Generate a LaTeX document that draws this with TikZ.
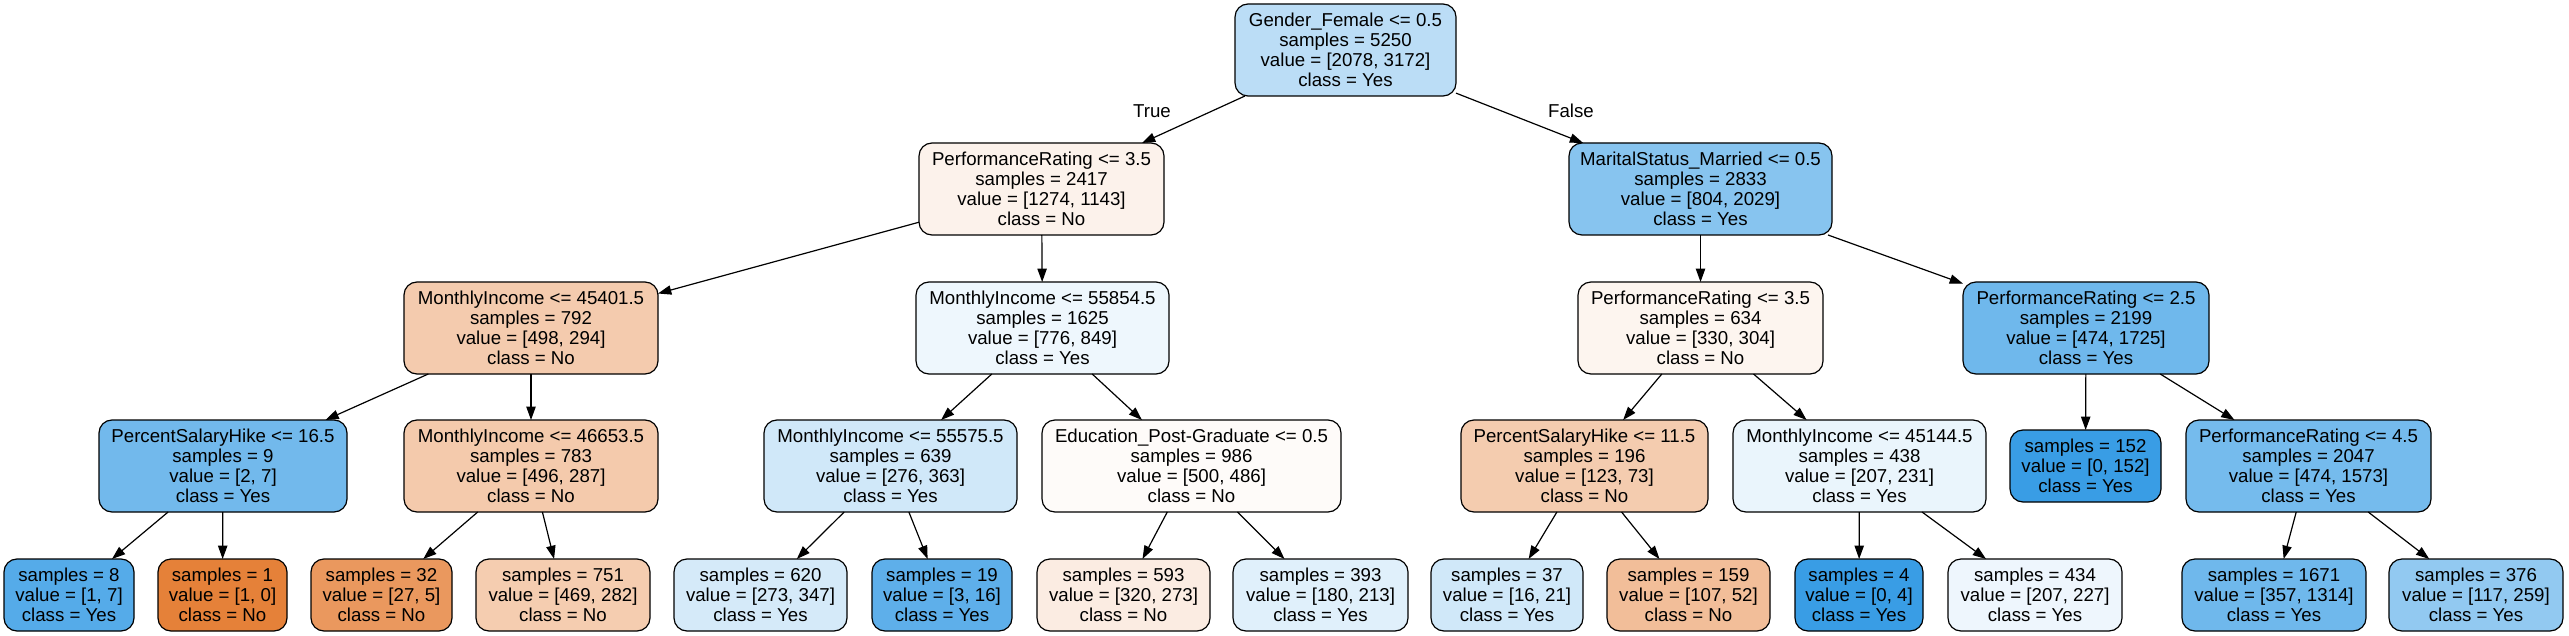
\documentclass[tikz,border=0pt]{standalone}
\usepackage{fontspec}
\setmainfont{Liberation Sans}
\usetikzlibrary{arrows.meta}
\definecolor{ora}{RGB}{229,129,57}
\definecolor{blu}{RGB}{57,157,229}
\begin{document}
\begin{tikzpicture}[x=1pt,y=-1pt,
  tn/.style={draw=black, line width=1.2pt, rounded corners=13pt, inner sep=0pt, outer sep=0pt, align=center, font=\fontsize{18.67}{20}\selectfont, minimum height=92pt},
  lf/.style={tn, minimum height=72pt},
  ed/.style={line width=1.2pt, -{Triangle[length=13.3pt,width=9.3pt]}},
  lbl/.style={font=\fontsize{18.67}{20}\selectfont, inner sep=0pt}]
\fill[white] (0,0) rectangle (2569,636);
\useasboundingbox (0,0) rectangle (2569,636);
% row 0
\node[tn, minimum width=221pt, fill=blu!34.49!white] (n0) at (1345.5,50) {Gender\_Female <= 0.5\\samples = 5250\\value = [2078, 3172]\\class = Yes};
% row 1
\node[tn, minimum width=245pt, fill=ora!10.28!white] (n1) at (1041.5,189) {PerformanceRating <= 3.5\\samples = 2417\\value = [1274, 1143]\\class = No};
\node[tn, minimum width=263pt, fill=blu!60.37!white] (n16) at (1700.5,189) {MaritalStatus\_Married <= 0.5\\samples = 2833\\value = [804, 2029]\\class = Yes};
% row 2
\node[tn, minimum width=254pt, fill=ora!40.96!white] (n2) at (531,328) {MonthlyIncome <= 45401.5\\samples = 792\\value = [498, 294]\\class = No};
\node[tn, minimum width=253pt, fill=blu!8.60!white] (n9) at (1042.5,328) {MonthlyIncome <= 55854.5\\samples = 1625\\value = [776, 849]\\class = Yes};
\node[tn, minimum width=245pt, fill=ora!7.88!white] (n17) at (1700.5,328) {PerformanceRating <= 3.5\\samples = 634\\value = [330, 304]\\class = No};
\node[tn, minimum width=246pt, fill=blu!72.52!white] (n24) at (2086,328) {PerformanceRating <= 2.5\\samples = 2199\\value = [474, 1725]\\class = Yes};
% row 3
\node[tn, minimum width=248pt, fill=blu!71.43!white] (n3) at (223,466) {PercentSalaryHike <= 16.5\\samples = 9\\value = [2, 7]\\class = Yes};
\node[tn, minimum width=254pt, fill=ora!42.14!white] (n6) at (531,466) {MonthlyIncome <= 46653.5\\samples = 783\\value = [496, 287]\\class = No};
\node[tn, minimum width=253pt, fill=blu!23.97!white] (n10) at (890.5,466) {MonthlyIncome <= 55575.5\\samples = 639\\value = [276, 363]\\class = Yes};
\node[tn, minimum width=299pt, fill=ora!2.8!white] (n13) at (1191.5,466) {Education\_Post-Graduate <= 0.5\\samples = 986\\value = [500, 486]\\class = No};
\node[tn, minimum width=247pt, fill=ora!40.65!white] (n18) at (1584.5,466) {PercentSalaryHike <= 11.5\\samples = 196\\value = [123, 73]\\class = No};
\node[tn, minimum width=253pt, fill=blu!10.39!white] (n21) at (1859.5,466) {MonthlyIncome <= 45144.5\\samples = 438\\value = [207, 231]\\class = Yes};
\node[lf, minimum width=151pt, fill=blu] (n25) at (2085.5,466) {samples = 152\\value = [0, 152]\\class = Yes};
\node[tn, minimum width=245pt, fill=blu!69.87!white] (n26) at (2308.5,466) {PerformanceRating <= 4.5\\samples = 2047\\value = [474, 1573]\\class = Yes};
% row 4
\node[lf, minimum width=130pt, fill=blu!85.71!white] (n4) at (69,595) {samples = 8\\value = [1, 7]\\class = Yes};
\node[lf, minimum width=129pt, fill=ora] (n5) at (222.5,595) {samples = 1\\value = [1, 0]\\class = No};
\node[lf, minimum width=141pt, fill=ora!81.48!white] (n7) at (381.5,595) {samples = 32\\value = [27, 5]\\class = No};
\node[lf, minimum width=174pt, fill=ora!39.87!white] (n8) at (563,595) {samples = 751\\value = [469, 282]\\class = No};
\node[lf, minimum width=173pt, fill=blu!21.33!white] (n11) at (760.5,595) {samples = 620\\value = [273, 347]\\class = Yes};
\node[lf, minimum width=140pt, fill=blu!81.25!white] (n12) at (942,595) {samples = 19\\value = [3, 16]\\class = Yes};
\node[lf, minimum width=173pt, fill=ora!14.69!white] (n14) at (1123.5,595) {samples = 593\\value = [320, 273]\\class = No};
\node[lf, minimum width=175pt, fill=blu!15.49!white] (n15) at (1320.5,595) {samples = 393\\value = [180, 213]\\class = Yes};
\node[lf, minimum width=152pt, fill=blu!23.81!white] (n19) at (1507,595) {samples = 37\\value = [16, 21]\\class = Yes};
\node[lf, minimum width=163pt, fill=ora!51.4!white] (n20) at (1688.5,595) {samples = 159\\value = [107, 52]\\class = No};
\node[lf, minimum width=128pt, fill=blu] (n22) at (1859,595) {samples = 4\\value = [0, 4]\\class = Yes};
\node[lf, minimum width=174pt, fill=blu!8.81!white] (n23) at (2035,595) {samples = 434\\value = [207, 227]\\class = Yes};
\node[lf, minimum width=184pt, fill=blu!72.83!white] (n27) at (2274,595) {samples = 1671\\value = [357, 1314]\\class = Yes};
\node[lf, minimum width=174pt, fill=blu!54.83!white] (n28) at (2476,595) {samples = 376\\value = [117, 259]\\class = Yes};
% edges
\draw[ed] (n0) -- (n1);
\draw[ed] (n0) -- (n16);
\draw[ed] (n1) -- (n2);
\draw[ed] (n1) -- (n9);
\draw[ed] (n16) -- (n17);
\draw[ed] (n16) -- (n24);
\draw[ed] (n2) -- (n3);
\draw[ed] (n2) -- (n6);
\draw[ed] (n9) -- (n10);
\draw[ed] (n9) -- (n13);
\draw[ed] (n17) -- (n18);
\draw[ed] (n17) -- (n21);
\draw[ed] (n24) -- (n25);
\draw[ed] (n24) -- (n26);
\draw[ed] (n3) -- (n4);
\draw[ed] (n3) -- (n5);
\draw[ed] (n6) -- (n7);
\draw[ed] (n6) -- (n8);
\draw[ed] (n10) -- (n11);
\draw[ed] (n10) -- (n12);
\draw[ed] (n13) -- (n14);
\draw[ed] (n13) -- (n15);
\draw[ed] (n18) -- (n19);
\draw[ed] (n18) -- (n20);
\draw[ed] (n21) -- (n22);
\draw[ed] (n21) -- (n23);
\draw[ed] (n26) -- (n27);
\draw[ed] (n26) -- (n28);
% edge labels
\node[lbl] (tl) at (1152,111) {True};
\node[lbl] (fl) at (1571,111) {False};
\end{tikzpicture}
\end{document}
